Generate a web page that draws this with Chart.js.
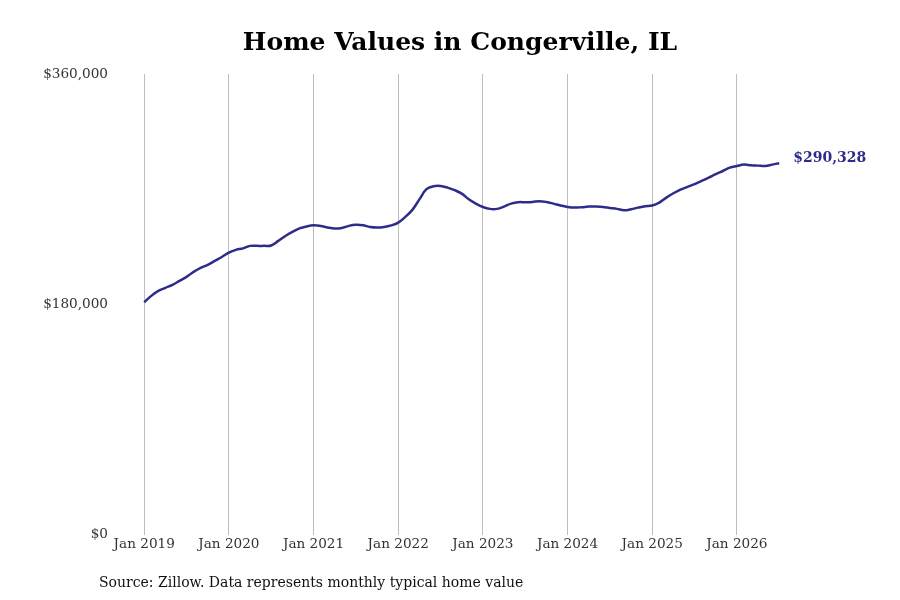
<!DOCTYPE html>
<html>
<head>
<meta charset="utf-8">
<script src="https://cdn.jsdelivr.net/npm/chart.js@4"></script>
<style>
  body { margin: 0; background: #fff; }
  #wrap { position: relative; width: 900px; height: 600px; }
  #source {
    position: absolute; left: 99px; top: 574px;
    font-family: "DejaVu Serif", serif; font-size: 14px; color: #111;
  }
</style>
</head>
<body>
<div id="wrap">
  <canvas id="chart" width="900" height="600"></canvas>
  <div id="source">Source: Zillow. Data represents monthly typical home value</div>
</div>
<script>
// months since Jan 2019, one value per month (Jan 2019 - Jul 2026)
const yearLabels = ['Jan 2019', 'Jan 2020', 'Jan 2021', 'Jan 2022', 'Jan 2023', 'Jan 2024', 'Jan 2025', 'Jan 2026'];
const yTicks = [0, 180000, 360000];
const homeValues = [
    181600, 186600, 190500, 192900, 195200, 198300, 201500, 205400, 208500, 210800, 214000, 217000,
    220400, 222600, 223700, 225700, 225700, 225700, 226000, 229600, 233400, 236600, 239300, 240900,
    241800, 241300, 240100, 239300, 239700, 241300, 242100, 241800, 240500, 240100, 240500, 241700,
    243900, 248300, 253800, 262000, 270000, 272300, 272500, 271200, 269200, 266500, 262100, 258700,
    256100, 254600, 254600, 256400, 258700, 259800, 259800, 260000, 260600, 260000, 258700, 257200,
    256100, 255600, 255900, 256400, 256400, 256100, 255300, 254600, 253500, 254300, 255600, 256700,
    257200, 259500, 263400, 266800, 269700, 271800, 273900, 276400, 279000, 281700, 284200, 286800,
    288100, 289200, 288700, 288400, 288100, 289200, 290328
];
const lineColor = '#2e2c8a';

const points = homeValues.map((v, i) => ({ x: i, y: v }));

// label next to the last point
const endLabel = {
    id: 'endLabel',
    afterDatasetsDraw(chart) {
        const meta = chart.getDatasetMeta(0);
        const last = meta.data[meta.data.length - 1];
        const ctx = chart.ctx;
        ctx.save();
        ctx.font = 'bold 14px "DejaVu Serif"';
        ctx.fillStyle = lineColor;
        ctx.textBaseline = 'middle';
        ctx.fillText('$' + homeValues[homeValues.length - 1].toLocaleString('en-US'), last.x + 14, last.y - 5);
        ctx.restore();
    }
};

new Chart(document.getElementById('chart'), {
    type: 'line',
    data: {
        datasets: [{
            data: points,
            borderColor: lineColor,
            borderWidth: 2.5,
            pointRadius: 0,
            tension: 0.4,
            fill: false
        }]
    },
    options: {
        responsive: false,
        animation: false,
        layout: { padding: { left: 30, right: 10, top: 10, bottom: 45 } },
        plugins: {
            legend: { display: false },
            tooltip: { enabled: false },
            title: {
                display: true,
                text: 'Home Values in Congerville, IL',
                color: '#000',
                font: { family: 'DejaVu Serif', size: 25, weight: 'bold' },
                padding: { top: 18, bottom: 16 }
            }
        },
        scales: {
            x: {
                type: 'linear',
                min: -4,
                max: 105.7,
                afterBuildTicks(scale) {
                    scale.ticks = yearLabels.map((_, i) => ({ value: i * 12 }));
                },
                ticks: {
                    color: '#333',
                    font: { family: 'DejaVu Serif', size: 13.6 },
                    padding: 2,
                    maxRotation: 0,
                    callback: (v) => yearLabels[v / 12]
                },
                grid: { display: true, color: '#bdbdbd', lineWidth: 1, drawTicks: false },
                border: { display: false }
            },
            y: {
                min: 0,
                max: 360000,
                afterBuildTicks(scale) {
                    scale.ticks = yTicks.map(v => ({ value: v }));
                },
                afterFit(scale) { scale.width = 86; },
                ticks: {
                    color: '#333',
                    font: { family: 'DejaVu Serif', size: 13.6 },
                    padding: 8,
                    callback: (v) => '$' + v.toLocaleString('en-US')
                },
                grid: { display: false, drawTicks: false },
                border: { display: false }
            }
        }
    },
    plugins: [endLabel]
});
</script>
</body>
</html>
